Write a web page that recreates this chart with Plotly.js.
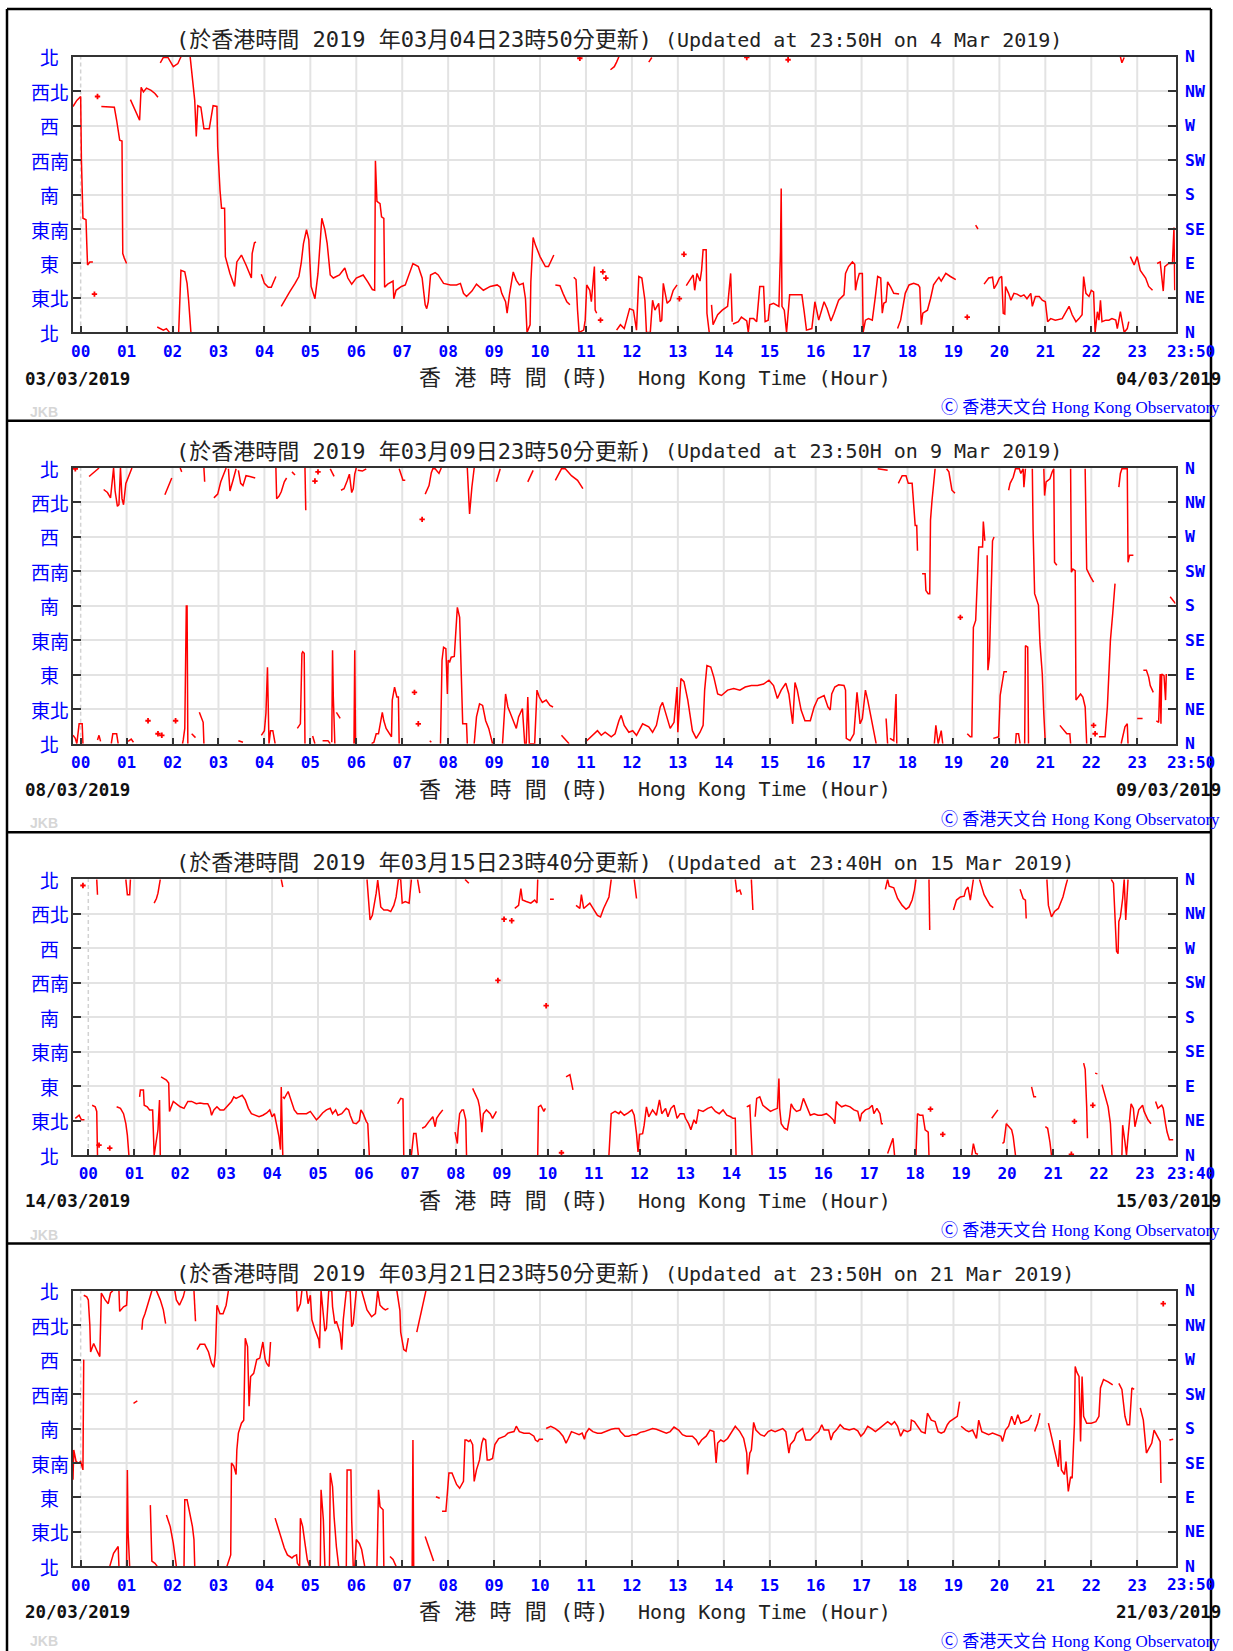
<!DOCTYPE html>
<html><head><meta charset="utf-8">
<script src="https://cdn.plot.ly/plotly-3.0.1.min.js"></script>
<style>html,body{margin:0;padding:0;background:#fff}</style>
</head><body><div id="chart" style="width:1233px;height:1651px"></div>
<script>
// ---------------- DATA (minutes after 00:00 HKT, wind direction in degrees) ----------------
const hourTicks = ['00','01','02','03','04','05','06','07','08','09','10','11','12','13','14','15','16','17','18','19','20','21','22','23'];
const dirTickDeg = [0,45,90,135,180,225,270,315,360];
const dirLabelZh = ['北','東北','東','東南','南','西南','西','西北','北'];
const dirLabelEn = ['N','NE','E','SE','S','SW','W','NW','N'];
const titleZh = ['(於香港時間 2019 年03月04日23時50分更新)','(於香港時間 2019 年03月09日23時50分更新)',
                 '(於香港時間 2019 年03月15日23時40分更新)','(於香港時間 2019 年03月21日23時50分更新)'];
const titleEn = ['(Updated at 23:50H on 4 Mar 2019)','(Updated at 23:50H on 9 Mar 2019)',
                 '(Updated at 23:40H on 15 Mar 2019)','(Updated at 23:50H on 21 Mar 2019)'];
const axisTitleZh = '香 港 時 間 (時)';
const axisTitleEn = 'Hong Kong Time (Hour)';
const dateStart = ['03/03/2019','08/03/2019','14/03/2019','20/03/2019'];
const dateEnd = ['04/03/2019','09/03/2019','15/03/2019','21/03/2019'];
const endLabel = ['23:50','23:50','23:40','23:50'];
const endMinute = [1430,1430,1420,1430];

const p1Min = [
[-10,-5,0,1,3,7,8,9,12,16],
[27,44,47,49,51,54,55,57,60],
[65,71,77,79,82,86,92,97,101],
[100,108,112,116],
[104,108,114,121,127,131],
[128,130,131,136,139,141,144],
[143,147,149,151,153,157,161,168,173,178,179,182,184,188,189,195,201,204,210,216,223,224,227,229],
[236,240,245,249,255],
[262,268,273,280,285,288,291,295,298,301,306,310,313,315,319,322,326,330,338,345,349,354,360,369,375,381,384,385,387,391,393,396,397,401,408,409,412,419,424,429,434,441,446,450,452,454,457,463,467,474,483,491,496,500,504,511,517,526,535,544,548,550,555,557,560,565,569,573,578,581,583,587,588,591,594,600,607,611,615,618],
[620,626,630,635,639],
[644,647,649,651,657,659,661,665,667,669,671,672,674],
[692,697,700,703],
[700,705,710,713,717,722,726,729,733,737,739,744,747,750,755,757,759,761,766,770,774,779],
[742,746],
[791,795,800,802,805,809,811,813,817,818,821],
[824,826,832,838,845,849,851],
[852,859,863,870,872,874,879,883,887,892,894,898,900,905,912,914,915,916,919,922,926,931,942,945,948,955,959,964,968,971,975,980,984,990,997,999,1003,1008,1011,1012,1014,1017,1021,1022,1025,1029,1034,1036,1038,1041,1045,1047,1049,1052,1054,1058,1062,1069],
[1067,1071,1077,1082,1088,1094,1096,1098,1100,1106,1110,1114,1118,1121,1124,1130,1136,1143],
[1169,1172],
[1180,1186,1191,1193,1197,1200,1203,1205,1207,1208,1212,1215,1219,1223,1228,1232,1236,1241,1243,1247,1252,1256,1260,1263,1267,1273,1282,1291,1295,1300,1304,1308,1310,1313,1317,1320,1323,1325,1328,1330,1332,1334,1339,1343,1347,1352,1354,1356,1358,1360,1363,1367,1369],
[1358,1360,1363],
[1371,1376,1380,1384,1391,1395,1400],
[1406,1410,1414,1416,1421,1426,1428,1429]];
const p1Dir = [
[295,303,308,225,149,147,116,88,92,92],
[295,294,277,260,251,250,103,97,90],
[304,290,277,320,314,319,316,312,307],
[7,3,5,0],
[352,359,359,347,351,360],
[0,42,81,79,64,42,0],
[360,321,303,256,296,294,266,266,296,295,242,186,162,162,99,77,60,92,101,88,71,103,117,118],
[76,64,59,59,73],
[34,45,53,64,73,90,116,134,121,60,44,77,129,149,134,116,75,71,75,84,71,63,71,75,66,56,55,224,171,168,151,149,59,63,67,44,55,60,62,77,90,86,71,36,31,40,75,78,75,64,62,62,64,51,47,54,63,55,60,62,59,51,40,25,49,79,68,62,64,44,0,10,66,124,114,99,86,86,94,101],
[62,61,51,40,36],
[72,69,29,0,3,16,62,55,40,64,86,29,25],
[343,347,353,360],
[3,10,5,16,31,29,3,73,71,42,0,0,42,29,38,14,16,64,38,42,55,62],
[353,359],
[61,67,75,55,77,67,81,108,108,25,0],
[36,10,23,29,34,77,14],
[11,14,20,15,0,18,18,14,60,60,14,16,36,38,34,105,188,34,29,0,49,49,49,27,3,5,40,16,29,40,31,15,25,42,49,77,86,92,89,55,66,77,77,0,16,18,16,29,47,73,71,25,38,40,66,59,51,50],
[5,16,51,62,64,62,59,10,25,29,44,62,68,72,67,77,73,69],
[140,135],
[63,71,72,57,64,71,73,25,24,60,51,42,51,50,47,49,44,51,34,47,47,42,40,14,18,16,18,34,23,14,18,23,73,51,47,55,53,0,27,16,42,14,16,16,18,16,5,16,27,16,0,5,14],
[360,352,359],
[99,88,99,81,71,60,55],
[90,92,54,86,90,90,137,55]];
const p1PtMin = [18,22,652,679,682,686,782,788,870,924,1158];
const p1PtDir = [50,308,358,16,79,71,44,102,359,356,20];

const p2Min = [
[-10,-7,-5,-2,2,3],[11,24],[22,24,26],
[30,35,39,41,43,45,48,50,52,54,56,59,61,65,67],
[40,42,47,49],[62,66,69],[110,119],[130,132],
[133,134,136,137,138,139,140],[145,150],[155,160,161],[161,162],
[174,179,183,188,190],[193,195,199,203],[206,209,212,216,221,228],[206,212],
[236,240,242,243,244,246,248,251,254],[255,256,259,262,266,269],[276,280],
[283,287,289,290,292,293],[293,294],[303,306],[316,323,326],[328,329,330,331,332],
[334,339],[326,331],[340,344,348,351,354,356,358,360],[357,358,359],[362,368,373],
[380,383,386,389,394,396,399,404,406,407,410,413,415,416],[416,421,424],
[450,455,458,460,463,468,471],[456,458],
[470,472,474,477,479,480,482,484,488,492,495,497,499,504,505],[505,508,511,514],
[514,517,521,525,529,533,538],[543,548],
[551,555,558,563,569,572,577,580,582,584,586,590,593,596,599,603,608,613,617],[584,591],
[620,628,633,641,649,656],[628,633,638],
[659,670,675,680,685,693,698,703,706,710,716,721,726,734,742,747,752,757,760,765,770,775,779,780,784,788,793,799,804,809,813,815,818,823,827,832,837,845,853,861,868,876,884,892,899,905,910,915,921,925,930,933,936,941,946,953,958,963,971,976,979,981,985,990,997,999,1000,1005,1010,1014,1018,1021,1025,1028,1032,1035,1039],
[1041,1054],[1052,1054],[1057,1062,1065,1066],
[1068,1073,1078,1081,1086,1088,1090,1092,1093],
[1099,1103,1104,1107,1109,1110,1112,1114,1116],
[1115,1117,1120,1124,1126],[1131,1134,1138,1142],
[1158,1162,1164,1165,1166,1169,1171,1173,1178,1179,1181],
[1184,1185,1187,1189,1191,1193],[1192,1199,1201,1206,1210],
[1221,1222,1225,1227],[1212,1214,1218,1221,1226,1228,1231,1232,1234],[1233,1234,1237,1238],
[1243,1244,1246,1249,1251,1253,1256,1258,1260],[1258,1259,1261,1266,1269,1271,1272,1275],
[1279,1285,1288,1292,1293],[1293,1294,1296,1299,1300,1306,1309,1312,1314],[1312,1314,1319,1323],
[1330,1338,1341,1343,1345,1348,1351],[1356,1358,1360,1367,1368,1370,1375],[1359,1364,1367,1368],
[1380,1387],[1388,1392,1395,1397,1401],[1405,1408,1410,1411,1412,1415,1417,1418],[1423,1430]];
const p2Dir = [
[11,7,0,26,26,0],[349,360],[5,11,3],
[332,328,321,340,360,330,310,312,360,320,312,340,345,357,360],
[0,13,13,0],[3,6,2],[325,347],[360,355],
[0,5,20,100,180,180,0],[13,8],[41,28,0],[360,342],
[321,326,342,357,360],[359,330,344,359],[357,340,337,350,349,347],[4,2],
[11,17,40,87,100,0,17,17,0],[360,320,323,329,342,347],[355,351],
[20,26,118,120,118,0],[360,305],[10,0],[4,4,0],[2,122,61,13,0],
[41,33],[359,349],[331,333,343,352,328,333,352,360],[0,122,0],[357,356,359],
[0,2,13,13,41,30,20,13,9,57,74,61,61,0],[359,344,344],
[326,337,354,359,359,353,360],[4,2],
[0,109,126,124,65,109,107,113,114,178,165,91,26,26,0],[360,300,335,360],
[0,35,52,50,30,20,0],[342,359],
[0,65,48,35,20,35,46,0,0,61,0,0,0,70,61,54,57,50,48],[342,357],
[344,359,359,350,344,333],[11,5,0],
[2,13,17,11,15,9,13,30,37,24,15,17,11,26,22,15,24,48,54,37,20,28,74,15,85,81,57,17,7,15,24,70,102,100,87,65,63,70,72,70,74,76,76,78,83,76,59,70,79,65,26,80,70,44,30,30,48,59,63,48,44,65,74,77,76,70,7,4,13,67,26,33,70,57,35,17,0],
[359,357],[33,0],[7,4,65,0],
[340,350,350,340,340,313,285,285,252],
[222,222,200,196,196,292,318,335,359],
[0,24,0,17,0],[359,355,331,327],
[13,9,9,104,152,161,213,257,257,290,265],
[246,96,113,183,265,270],[7,9,63,94,94],
[0,13,13,0],[331,340,348,359,359,353,359,335,359],[0,128,126,0],
[359,279,196,187,181,131,91,39,0],[359,324,342,346,355,359,237,233],
[24,17,13,13,0],[359,224,228,226,57,65,61,48,0],[359,228,218,211],
[9,9,48,96,135,170,209],[335,353,359,359,237,246,246],[0,22,26,0],
[33,33],[96,96,87,76,67],[30,28,91,26,91,89,57,91],[192,183]];
const p2PtMin = [-7,88,101,106,124,306,310,436,441,446,1149,1323,1325];
const p2PtDir = [359,30,13,11,30,343,355,67,26,293,165,24,13];

const p3Min = [
[-17,-12,-9,-5],[11,12],[5,9,11,12],[37,42,46,49,51,53],[49,51,54,55],
[67,68,72,73,77,80,84,86,91,93,94],[86,89,91,94],
[95,98,102,105,106,111,115,120,125,130,135,141,146,151,156,159,161,164,168,172,177,182,187,190,193,197,201,205,209,213,218,223,228,233,237,240,243,246,249,251,252,254],
[252,254],
[254,256,261,265,269,273,280,285,290,295,298,302,306,311,316,319,323,326,331,337,340,342,346,350,354,356,359,363,365,367],
[364,367,368,371,373,376,378,381,382,386,391,395,399,402,405,408,410,414,419,422],
[430,433],[404,408,411,412],[422,425,428,431],[436,440,445,450,453,455,459,463],
[479,482,483,485,488,490,493,494],[492,497],[502,504,509,511,514,516,520,525,528,533],
[557,562,565,567,572,578,583,586,587],[587,588,591,595,597],[603,608],[624,629,633],
[637,642,644,647,655,660,665,669,673,680,683],
[680,683,688,693,695,700,705,710,713,716,718,720,724,726,729,732,737,742,746,749,754,757,761,765,769,773,778,780,784,787,791,794,797,803,809,814,819,824,829,834,839,842,845,846],
[713,716],[845,847,851,853],[860,864,867],[866,868],
[871,873,877,881,886,891,895,900,902,903,905,909,913,916,918,921,925,930,934,938,943,948,953,958,964,969,973,975,977,979,984,989,995,1000,1005,1008,1010,1015,1020,1024,1026,1030,1034,1036,1038],
[1044,1051,1053],[1041,1044,1046,1052,1057,1063,1068,1072,1076,1079,1081],
[1081,1083,1086,1090,1093,1097,1098],[1098,1099],
[1130,1134,1139,1144,1146,1149,1152,1156],[1164,1166,1170,1174,1178,1182],[1154,1156,1159,1162],
[1180,1185,1188],[1194,1196,1199,1201,1206,1208,1211],[1217,1221,1224,1225],[1232,1235,1238],
[1250,1253,1256,1258],[1252,1254,1258,1262,1267,1273,1277,1279],[1300,1302,1304,1305],[1315,1318],
[1324,1327,1332,1335,1337],[1336,1339,1343,1345,1346,1348,1351,1353,1355,1358],
[1350,1351,1354,1356,1358,1362,1365,1367,1372,1377,1379,1384,1388],
[1394,1397,1402,1404,1407,1409,1412,1417]];
const p3Dir = [
[48,52,46,46],[360,340],[65,63,57,0],[63,61,54,41,26,0],[360,340,340,360],
[76,85,85,65,63,59,59,0,33,72,0],[329,335,342,360],
[102,100,98,94,57,70,67,63,61,70,70,67,68,67,67,61,52,59,63,59,59,65,70,76,74,76,78,72,61,54,52,50,52,55,59,50,54,41,24,7,89,0],
[360,350],
[76,74,83,72,59,54,54,54,57,50,46,50,55,59,61,54,59,52,54,61,59,52,42,41,45,59,54,44,41,0],
[360,326,307,313,324,342,359,337,324,320,320,318,326,337,360,360,329,331,329,360],
[360,342],[67,74,73,0],[0,28,28,0],[35,37,44,50,37,48,54,59],
[30,15,33,54,59,59,46,0],[360,355],[87,83,72,63,30,54,59,54,48,57],
[322,326,348,333,331,329,333,329,360],[0,63,65,57,61],[334,334],[102,105,85],
[326,322,340,322,329,320,313,311,322,337,360],
[0,54,57,54,57,52,55,59,52,28,4,27,28,39,63,50,59,52,72,54,61,50,61,65,48,54,54,48,41,33,46,41,59,57,61,63,57,54,59,52,50,48,48,0],
[360,335],[360,344,346,340],[63,65,0],[360,320],
[50,74,76,65,61,57,59,61,100,61,41,35,33,50,67,61,57,59,74,63,52,54,52,52,54,50,46,41,70,67,63,65,63,59,57,44,54,59,61,65,54,61,54,41,41],
[2,22,0],[347,360,351,349,335,326,321,324,333,346,360],
[0,54,52,52,33,30,0],[360,294],
[320,333,337,338,346,350,333,360],[360,353,340,333,326,323],[0,15,2,1],
[48,54,59],[15,17,41,39,33,24,0],[347,335,333,309],[89,76,76],
[37,35,17,0],[360,326,311,318,322,337,353,360],[120,112,63,22],[107,106],
[92,81,63,41,0],[360,355,266,263,305,311,335,360,307,360],
[0,39,17,0,24,67,61,37,59,65,57,46,41],
[70,61,65,61,41,30,20,20]];
const p3PtMin = [-7,14,28,535,543,553,598,618,1100,1116,1284,1288,1312];
const p3PtDir = [352,13,9,228,308,306,195,3,60,27,1,44,65];

const p4Min = [
[-10,-9,-6,-3,0,3,4],[4,8,10,12,13,17,22,25,27,32,36,39,42],[50,51,56,60,61],[38,43,49,50],
[60,61,62,64],[69,74],[80,81,84,87,91,93],[99,104,108,111],[91,93,97,100],[112,117,121,125],
[123,125,129,134,136],[135,136,139,144,146,148,149],[148,150],
[152,156,162,167,171,174,176,178,182,186,190,193],
[191,196,197,200,203,204,206,210,213,215,218,220,222,226,230,234,238,241,243,246,248],
[254,258,263,266,270,276,278,282,283,286,287,290,293,296,299],[282,283,287,289],
[295,297,300,302,306,311,312,314,319,321,324,328,329,332,334,339,341,342,343,347,352,354,356,360],
[313,314,317,319],[325,326,329,331,334,337],[347,348,353,354,356],[358,360,364,367,371],
[367,370,374,380,385,388,391,395,398,402],[387,389,391,395,396],[404,408,412],
[413,417,418,422,425,428],[433,434,435],[439,444,448,451],[450,456,461],[464,469],
[472,477,479,481,485,488,491,495,498,500,502,504,507,509,512,514,517,521,524,526,529,531,534,538,541,546,554,558,566,569,573,579,586,592,594,597,599,604],
[608,614,620,625,630,634,637,641,646,651,655,658,660,664,669,675,680,685,693,698,703,705,711,716,721,726,731,736,742,747,752,760,765,770,775,781,786,791,799,804,807,811,817,822,827,830,832,836,840,845,850,855,861,866,870,871,874,876,879,882,888,893,898,902,907,912,917,921,925,927,932,935,940,943,947,953,959,964,968,971,977,980,983,987,992,997,1004,1010,1015,1019,1023,1028,1033,1038,1043,1049,1054,1059,1063,1067,1071,1075,1080,1084,1085,1089,1093,1098,1103,1106,1111,1116,1120,1124,1128,1132,1135,1141,1145,1148],
[1150,1156,1160,1165,1170,1173,1177,1181,1186,1191,1197,1202,1204,1208,1212,1216,1220,1224,1228,1233,1238,1242],
[1246,1250,1253],
[1264,1268,1273,1277,1279,1281,1285,1287,1290,1293,1295,1298,1299,1301,1304,1306,1308,1310,1314,1320,1326,1330,1332,1336,1342,1346,1348],
[1356,1360,1364,1367,1370,1373,1376],
[1384,1388,1392,1395,1399,1402,1405,1410,1411],
[1422,1427]];
const p4Dir = [
[113,152,137,135,137,126,270],[354,352,348,315,280,291,280,274,357,348,343,357,360],[360,333,339,341,360],[0,17,26,0],
[0,126,43,0],[213,216],[309,322,330,339,352,360],[360,348,335,317],[80,7,4,0],[67,52,30,0],
[360,348,341,352,360],[0,87,87,65,52,35,0],[360,320],
[283,290,290,280,265,260,278,341,330,330,341,360],
[0,15,135,131,120,152,174,187,191,298,287,209,248,252,270,272,293,270,265,261,293],
[63,50,37,24,15,11,13,15,4,0,63,52,30,9,0],[360,333,343,360],
[360,343,354,322,309,296,285,360,307,311,360,360,339,317,320,304,283,304,322,360,360,313,317,360],
[0,100,61,0],[0,122,104,65,26,0],[0,126,126,61,0],[0,35,30,22,0],
[360,348,335,326,330,360,341,337,335,337],[0,100,78,74,0],[13,9,0],
[360,334,306,283,281,298],[0,165,0],[306,330,347,360],[39,22,7],[91,89],
[72,72,96,122,122,115,107,102,107,111,165,165,163,165,159,111,126,139,161,167,165,139,139,141,159,167,170,174,176,183,176,174,174,170,165,163,166,166],
[180,183,180,176,170,161,167,176,174,172,174,166,174,180,176,174,174,176,179,180,180,176,170,170,172,172,175,176,178,180,179,176,174,176,182,178,172,170,170,165,159,165,170,178,176,135,161,165,163,167,176,183,176,167,148,120,148,152,188,178,172,170,176,178,176,178,180,176,148,159,165,174,178,180,165,165,172,176,185,178,178,165,174,178,185,180,178,180,177,170,174,183,180,176,180,185,189,185,189,183,170,178,176,178,191,189,183,176,174,200,191,189,176,174,176,185,189,193,196,215],
[183,178,176,178,167,191,176,174,172,174,172,170,163,178,183,196,185,198,187,189,191,198],
[176,187,200],
[187,170,148,130,165,126,120,137,98,117,115,187,261,254,248,163,248,196,187,187,189,196,233,244,241,239,237],
[239,231,196,185,185,233,231],
[207,191,148,154,161,178,172,163,109],
[165,166]];
const p4PtMin = [1414];
const p4PtDir = [343];

// ---------------- LAYOUT GEOMETRY ----------------
const W = 1233, H = 1651;
const plotLeft = 73, plotRight = 1175.5, plotTop0 = 56.7, plotH = 275.7, pitch = 411.33;
const px = v => v / W, py = v => 1 - v / H;
const blue = '#0000ff';
const mono = 'DejaVu Sans Mono, Noto Sans CJK TC, monospace';
const flat = segs => segs.reduce((a, s) => a.concat(s, [null]), []);

const panels = [
  {min: p1Min, dir: p1Dir, ptMin: p1PtMin, ptDir: p1PtDir},
  {min: p2Min, dir: p2Dir, ptMin: p2PtMin, ptDir: p2PtDir},
  {min: p3Min, dir: p3Dir, ptMin: p3PtMin, ptDir: p3PtDir},
  {min: p4Min, dir: p4Dir, ptMin: p4PtMin, ptDir: p4PtDir}];

const traces = [];
const layout = {width: W, height: H, margin: {l: 0, r: 0, t: 0, b: 0},
  paper_bgcolor: '#ffffff', plot_bgcolor: 'rgba(0,0,0,0)', showlegend: false,
  annotations: [], shapes: []};
const tickMin = hourTicks.map((h, i) => i * 60);
const gridCol = '#e3e3e3';

panels.forEach((p, k) => {
  const sfx = k === 0 ? '' : String(k + 1);
  const xa = 'x' + sfx, ya = 'y' + sfx;
  const off = k * pitch;
  const top = plotTop0 + off, bot = top + plotH;
  traces.push({type: 'scatter', mode: 'lines', x: flat(p.min), y: flat(p.dir), xaxis: xa, yaxis: ya,
    line: {color: '#ff0000', width: 1.5}, connectgaps: false, hoverinfo: 'skip'});
  traces.push({type: 'scatter', mode: 'markers', x: p.ptMin, y: p.ptDir, xaxis: xa, yaxis: ya,
    marker: {symbol: 'cross', size: 4.5, color: '#ff0000'}, hoverinfo: 'skip'});
  layout['xaxis' + sfx] = {domain: [px(plotLeft), px(plotRight)], anchor: ya,
    range: [endMinute[k] - 1440, endMinute[k]], tickmode: 'array', tickvals: tickMin, ticktext: hourTicks,
    ticks: 'inside', ticklen: 6, tickwidth: 2, tickcolor: '#333', ticklabelstandoff: 3,
    showline: true, linecolor: '#333', linewidth: 2, mirror: true,
    showgrid: false, zeroline: false, fixedrange: true,
    tickfont: {family: mono, size: 16, color: blue, weight: 'bold'}};
  layout['yaxis' + sfx] = {domain: [py(bot), py(top)], anchor: xa, range: [0, 360],
    tickmode: 'array', tickvals: dirTickDeg, showticklabels: false,
    ticks: 'inside', ticklen: 8, tickwidth: 2, tickcolor: '#333',
    showline: true, linecolor: '#333', linewidth: 2, mirror: 'ticks',
    showgrid: true, gridcolor: gridCol, gridwidth: 2, zeroline: false, fixedrange: true};
  // hour grid lines (00 dashed)
  tickMin.forEach(m => layout.shapes.push({type: 'line', xref: xa, yref: ya + ' domain',
    x0: m, x1: m, y0: 0, y1: 1, layer: 'below',
    line: m === 0 ? {color: '#d2d2d2', width: 1.5, dash: '4px,3px'} : {color: gridCol, width: 2}}));
  // direction labels
  dirTickDeg.forEach((d, i) => {
    layout.annotations.push({xref: 'paper', yref: ya, x: px(50), y: d, xanchor: 'center', yanchor: 'middle',
      text: dirLabelZh[i], showarrow: false, font: {family: 'Noto Sans CJK TC', size: 19, color: blue}});
    layout.annotations.push({xref: 'paper', yref: ya, x: px(1183), y: d, xanchor: 'left', yanchor: 'middle',
      text: dirLabelEn[i], showarrow: false, font: {family: mono, size: 16.5, color: blue, weight: 'bold'}});
  });
  const A = (x, y, text, xanchor, font) => layout.annotations.push({xref: 'paper', yref: 'paper',
    x: px(x), y: py(Math.min(y + off, 1641)), text, xanchor, yanchor: 'middle', showarrow: false, font});
  A(174, 40, titleZh[k], 'left', {family: mono, size: 22, color: '#222'});
  A(663, 40, titleEn[k], 'left', {family: mono, size: 20, color: '#222'});
  A(1191, 351, endLabel[k], 'center', {family: mono, size: 16, color: blue, weight: 'bold'});
  A(23, 378.5, dateStart[k], 'left', {family: mono, size: 17.5, color: '#111', weight: 'bold'});
  A(1223, 378.5, dateEnd[k], 'right', {family: mono, size: 17.5, color: '#111', weight: 'bold'});
  A(417, 378, axisTitleZh, 'left', {family: mono, size: 22, color: '#222'});
  A(636, 378, axisTitleEn, 'left', {family: mono, size: 20, color: '#222'});
  A(28, 412, 'JKB', 'left', {family: 'Liberation Sans', size: 14, color: '#d6d6d6', weight: 'bold'});
  A(1222, 408, 'Ⓒ 香港天文台 Hong Kong Observatory', 'right', {family: 'Liberation Serif, DejaVu Sans, Noto Sans CJK TC', size: 17, color: blue});
});

// outer frame lines
const frameY = [9, 420.7, 832.2, 1243.6];
layout.shapes.push({type: 'line', xref: 'paper', yref: 'paper', x0: px(7), x1: px(7), y0: py(9), y1: 0, line: {color: '#000', width: 2.5}});
layout.shapes.push({type: 'line', xref: 'paper', yref: 'paper', x0: px(1211), x1: px(1211), y0: py(9), y1: 0, line: {color: '#000', width: 2.5}});
frameY.forEach(y => layout.shapes.push({type: 'line', xref: 'paper', yref: 'paper', x0: px(7), x1: px(1211), y0: py(y), y1: py(y), line: {color: '#000', width: 2.5}}));

Plotly.newPlot('chart', traces, layout, {staticPlot: true, displayModeBar: false});
</script>
</body></html>
